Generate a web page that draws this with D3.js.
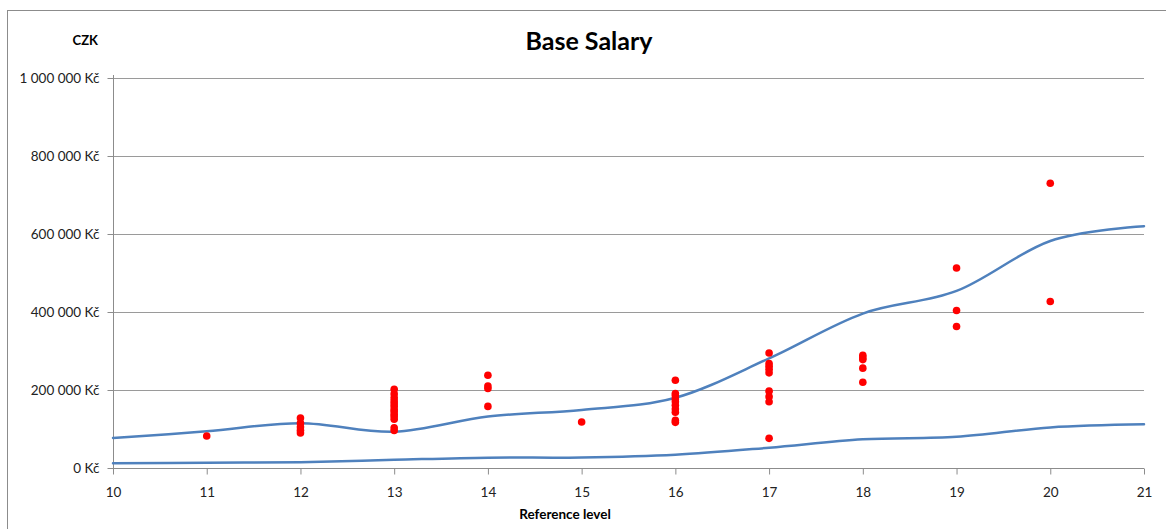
<!DOCTYPE html>
<html>
<head>
<meta charset="utf-8">
<script src="https://cdn.jsdelivr.net/npm/d3@7"></script>
<style>
  html, body { margin: 0; padding: 0; background: #fff; }
  svg { display: block; font-family: Lato, "Open Sans", sans-serif; }
</style>
</head>
<body>
<svg id="chart" width="1166" height="529"></svg>
<script>
// Reference levels shown on the x axis
const levels = [10, 11, 12, 13, 14, 15, 16, 17, 18, 19, 20, 21];

// Upper and lower salary band (CZK) per reference level
const upperBand = [77000, 94000, 115000, 93000, 132000, 149000, 180000, 281000, 396000, 454000, 582000, 620000];
const lowerBand = [12000, 13500, 15000, 21000, 26500, 27000, 34000, 52000, 73500, 80000, 104000, 112000];

// Individual base salaries (level, CZK)
const pointLevels = [
  11,
  12, 12, 12, 12, 12,
  13, 13, 13, 13, 13, 13, 13, 13, 13, 13, 13, 13, 13,
  14, 14, 14, 14,
  15,
  16, 16, 16, 16, 16, 16, 16, 16, 16, 16,
  17, 17, 17, 17, 17, 17, 17, 17, 17,
  18, 18, 18, 18, 18,
  19, 19, 19,
  20, 20
];
const pointSalaries = [
  82000,
  128000, 115000, 105000, 97000, 90000,
  202000, 190000, 180000, 172000, 165000, 158000, 150000, 145000, 138000, 132000, 125000, 103000, 96000,
  238000, 210000, 204000, 158000,
  118000,
  225000, 191000, 185000, 177000, 170000, 161000, 151000, 143000, 122000, 117000,
  295000, 268000, 261000, 253000, 244000, 197000, 183000, 170000, 76000,
  289000, 283000, 278000, 256000, 220000,
  513000, 404000, 363000,
  730000, 427000
];

const yTicks = [0, 200000, 400000, 600000, 800000, 1000000];

const svg = d3.select("#chart");
const margin = { left: 113, right: 22, top: 78, bottom: 61 };
const W = 1166, H = 529;

const x = d3.scaleLinear().domain([10, 21]).range([margin.left, W - margin.right]);
const y = d3.scaleLinear().domain([0, 1000000]).range([H - margin.bottom, margin.top]);

// Outer chart frame
svg.append("rect")
  .attr("x", 7.5).attr("y", 10.5)
  .attr("width", 1200).attr("height", 600)
  .attr("fill", "none").attr("stroke", "#8c8c8c").attr("stroke-width", 1);

// Horizontal gridlines
svg.append("g")
  .selectAll("line")
  .data(yTicks.filter(d => d > 0))
  .join("line")
  .attr("x1", x(10)).attr("x2", x(21))
  .attr("y1", d => Math.round(y(d)) + 0.5).attr("y2", d => Math.round(y(d)) + 0.5)
  .attr("stroke", "#9a9a9a").attr("stroke-width", 1);

// Thousands grouped with spaces, Czech currency suffix
const fmt = d => d3.format(",")(d).replace(/,/g, "\u00a0") + "\u00a0Kč";

const yAxis = svg.append("g")
  .attr("transform", `translate(${x(10) + 0.5},0)`)
  .call(d3.axisLeft(y).tickValues(yTicks).tickSize(6).tickPadding(8).tickFormat(fmt));
yAxis.select(".domain").attr("stroke", "#8c8c8c").attr("d", `M0,${y(0)}V${y(1000000) - 3}`);
yAxis.selectAll(".tick line").attr("stroke", "#8c8c8c");
yAxis.selectAll(".tick text").attr("font-size", 13.5).attr("fill", "#222").attr("font-family", "Lato, sans-serif");

const xAxis = svg.append("g")
  .attr("transform", `translate(0,${Math.round(y(0)) + 0.5})`)
  .call(d3.axisBottom(x).tickValues(levels).tickSize(6).tickPadding(13).tickFormat(d3.format("d")));
xAxis.select(".domain").attr("stroke", "#8c8c8c").attr("d", `M${x(10)},0H${x(21)}`);
xAxis.selectAll(".tick line").attr("stroke", "#8c8c8c");
xAxis.selectAll(".tick text").attr("font-size", 13.5).attr("fill", "#222").attr("font-family", "Lato, sans-serif");

// Smoothed salary band lines
const line = d3.line()
  .x((d, i) => x(levels[i]))
  .y(d => y(d))
  .curve(d3.curveCardinal.tension(0));

[upperBand, lowerBand].forEach(series => {
  svg.append("path")
    .datum(series)
    .attr("d", line)
    .attr("fill", "none")
    .attr("stroke", "#4f81bd")
    .attr("stroke-width", 2.5)
    .attr("stroke-linecap", "round");
});

// Salary points
svg.append("g")
  .selectAll("circle")
  .data(pointSalaries)
  .join("circle")
  .attr("cx", (d, i) => x(pointLevels[i]))
  .attr("cy", d => y(d))
  .attr("r", 3.8)
  .attr("fill", "#ff0000");

// Titles
svg.append("text")
  .attr("x", 589).attr("y", 50)
  .attr("text-anchor", "middle")
  .attr("font-size", 25).attr("font-weight", "bold").attr("fill", "#000")
  .text("Base Salary");

svg.append("text")
  .attr("x", 98).attr("y", 45)
  .attr("text-anchor", "end")
  .attr("font-size", 13).attr("font-weight", "bold").attr("fill", "#000")
  .text("CZK");

svg.append("text")
  .attr("x", 565).attr("y", 519)
  .attr("text-anchor", "middle")
  .attr("font-size", 13.5).attr("font-weight", "bold").attr("fill", "#000")
  .text("Reference level");
</script>
</body>
</html>
